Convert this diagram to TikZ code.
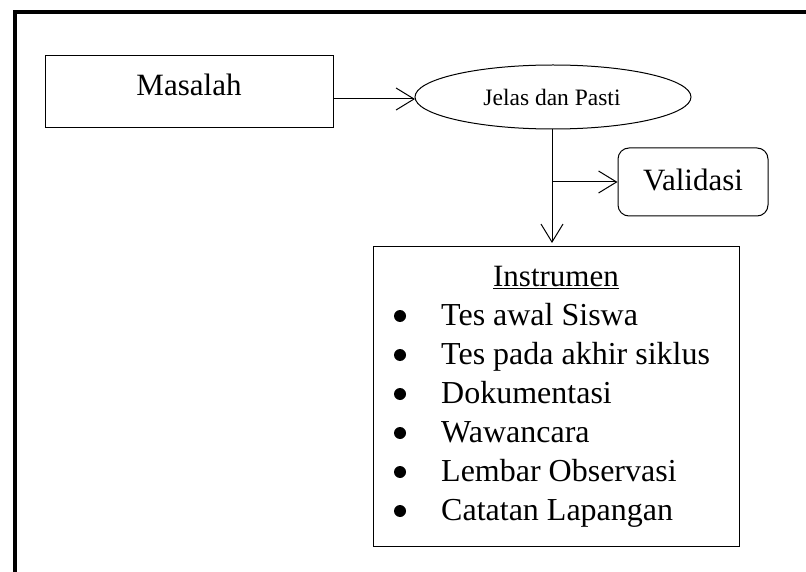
\documentclass[tikz,border=0pt]{standalone}
\usepackage{fontspec}
\setmainfont{Liberation Serif}
\usetikzlibrary{shapes.geometric,arrows.meta}
\tikzset{
  box/.style={draw, line width=1pt, inner sep=0pt},
  big/.style={font=\fontsize{31}{31}\selectfont, inner sep=0pt},
  item/.style={font=\fontsize{32}{32}\selectfont, inner sep=0pt},
  dot/.style={circle, fill, inner sep=0pt, minimum size=12pt},
  arr/.style={line width=1pt, -{Straight Barb[length=18pt,width=22pt,line width=1pt]}},
}
\begin{document}
\begin{tikzpicture}[x=1pt,y=-1pt]
\useasboundingbox (0,0) rectangle (806,572);
% outer frame (open to the right and bottom)
\draw[line width=4.5pt] (15,572) -- (15,12) -- (806,12);
% boxes
\node[box, minimum width=288pt, minimum height=72pt] (masalah) at (189,92) {};
\node[big, anchor=base] (masalahT) at (189,96) {Masalah};
\node[box, ellipse, minimum width=276pt, minimum height=64pt] (jelas) at (553,97) {};
\node[anchor=base, inner sep=0pt, font=\fontsize{23.5}{23.5}\selectfont] (jelasT) at (552,106) {Jelas dan Pasti};
\node[box, rounded corners=11pt, minimum width=150pt, minimum height=68pt] (valid) at (693,182) {};
\node[big, anchor=base] (validT) at (693,191) {Validasi};
\node[box, minimum width=366pt, minimum height=299pt] (instr) at (556,396.5) {};
\node[big, anchor=base] (instrT) at (556,286) {\underline{Instrumen}};
\foreach \t [count=\i] in {Tes awal Siswa, Tes pada akhir siklus, Dokumentasi, Wawancara, Lembar Observasi, Catatan Lapangan}{
  \node[dot] (b\i) at (400,{316+39*(\i-1)}) {};
  \node[item, anchor=base west] (t\i) at (441,{325+39*(\i-1)}) {\t};
}
% connectors
\coordinate (mout) at (333,99);
\coordinate (jin) at (415,99);
\draw[arr] (mout) -- (jin);
\coordinate (jbot) at (552,129);
\coordinate (branch) at (552,182);
\coordinate (itop) at (552,243);
\draw[arr] (jbot) -- (itop);
\draw[arr] (branch) -- (valid.west);
\end{tikzpicture}
\end{document}
